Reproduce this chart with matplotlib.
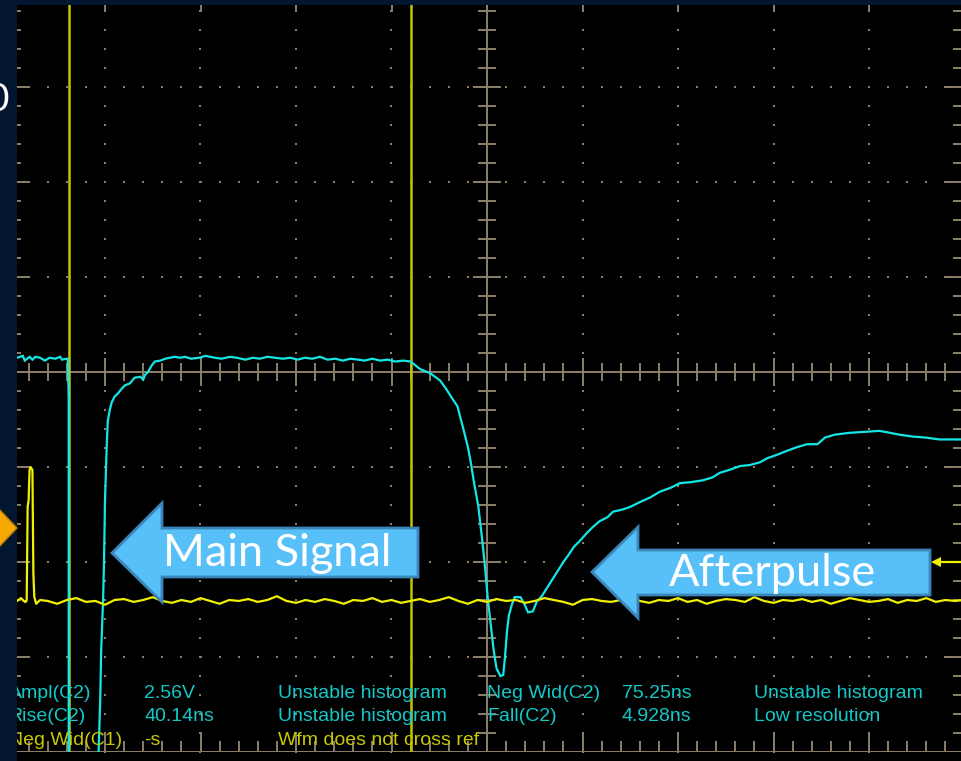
import numpy as np
import matplotlib
matplotlib.use("Agg")
import matplotlib.pyplot as plt
from matplotlib.collections import LineCollection
from matplotlib.patches import Polygon, Rectangle

# ----- C2 trace (cyan), screen divisions: x -5..5, y -4..4 -----
c2_t = [-4.92, -4.86, -4.84, -4.79, -4.76, -4.73, -4.68, -4.63, -4.58, -4.52, -4.47,
        -4.45, -4.40, -4.39, -4.38, -4.38, -4.08, -4.07, -4.05, -4.04, -4.02, -4.01,
        -4.00, -3.99, -3.98, -3.97, -3.95, -3.93, -3.90, -3.86, -3.82, -3.79, -3.74,
        -3.69, -3.63, -3.60, -3.58, -3.55, -3.51, -3.48, -3.42, -3.37, -3.32, -3.27,
        -3.21, -3.16, -3.10, -3.01, -2.95, -2.85, -2.78, -2.69, -2.62, -2.53, -2.45,
        -2.38, -2.30, -2.22, -2.14, -2.06, -1.98, -1.91, -1.83, -1.75, -1.67, -1.59,
        -1.51, -1.43, -1.35, -1.28, -1.20, -1.12, -1.04, -0.96, -0.88, -0.80, -0.75,
        -0.70, -0.60, -0.49, -0.42, -0.37, -0.31, -0.25, -0.20, -0.17, -0.14, -0.09,
        -0.05, -0.02, 0.01, 0.04, 0.07, 0.10, 0.14, 0.17, 0.19, 0.21, 0.23, 0.26,
        0.29, 0.35, 0.39, 0.43, 0.48, 0.52, 0.58, 0.63, 0.68, 0.73, 0.80, 0.85, 0.91,
        0.97, 1.05, 1.11, 1.18, 1.26, 1.32, 1.41, 1.50, 1.60, 1.71, 1.81, 1.92, 2.02,
        2.13, 2.26, 2.36, 2.44, 2.54, 2.65, 2.75, 2.86, 2.93, 3.04, 3.14, 3.25, 3.35,
        3.46, 3.54, 3.64, 3.80, 3.96, 4.11, 4.22, 4.32, 4.46, 4.59, 4.74, 4.96]
c2_v = [0.15, 0.17, 0.12, 0.16, 0.13, 0.16, 0.15, 0.12, 0.15, 0.14, 0.16,
        0.13, 0.14, 0.14, -0.27, -4.60, -4.60, -4.09, -3.45, -2.93, -2.40, -1.98,
        -1.35, -1.03, -0.72, -0.51, -0.40, -0.32, -0.26, -0.22, -0.17, -0.14, -0.12,
        -0.06, -0.05, -0.08, -0.03, 0.00, 0.07, 0.11, 0.12, 0.14, 0.15, 0.16,
        0.15, 0.16, 0.14, 0.15, 0.17, 0.15, 0.14, 0.16, 0.15, 0.13, 0.15,
        0.14, 0.16, 0.15, 0.14, 0.15, 0.13, 0.15, 0.14, 0.16, 0.13, 0.14,
        0.12, 0.14, 0.13, 0.12, 0.14, 0.12, 0.13, 0.11, 0.12, 0.11, 0.07,
        0.03, -0.01, -0.09, -0.19, -0.27, -0.36, -0.59, -0.79, -0.95, -1.14, -1.42,
        -1.77, -2.06, -2.40, -2.66, -2.93, -3.12, -3.20, -3.19, -2.98, -2.72, -2.56, -2.45,
        -2.37, -2.37, -2.44, -2.53, -2.52, -2.42, -2.35, -2.27, -2.19, -2.11, -2.00, -1.93, -1.84,
        -1.78, -1.69, -1.63, -1.57, -1.53, -1.47, -1.45, -1.42, -1.37, -1.32, -1.26, -1.22,
        -1.17, -1.16, -1.14, -1.11, -1.06, -1.03, -0.99, -0.98, -0.95, -0.91, -0.87, -0.83, -0.79,
        -0.76, -0.76, -0.69, -0.66, -0.64, -0.63, -0.62, -0.64, -0.66, -0.68, -0.69, -0.71, -0.71]

# ----- C1 trace (yellow) -----
c1_t = [-4.92, -4.88, -4.84, -4.83, -4.82, -4.81, -4.80, -4.79, -4.78, -4.76, -4.75,
        -4.74, -4.72, -4.68,
        -4.6, -4.5, -4.4, -4.3, -4.2, -4.1, -4.0, -3.9, -3.8, -3.7,
        -3.6, -3.5, -3.4, -3.3, -3.2, -3.1, -3.0, -2.9, -2.8, -2.7,
        -2.6, -2.5, -2.4, -2.3, -2.2, -2.1, -2.0, -1.9, -1.8, -1.7,
        -1.6, -1.5, -1.4, -1.3, -1.2, -1.1, -1.0, -0.9, -0.8, -0.7,
        -0.6, -0.5, -0.4, -0.3, -0.2, -0.1, 0.0, 0.1, 0.2, 0.3,
        0.4, 0.5, 0.6, 0.7, 0.8, 0.9, 1.0, 1.1, 1.2, 1.3,
        1.4, 1.5, 1.6, 1.7, 1.8, 1.9, 2.0, 2.1, 2.2, 2.3,
        2.4, 2.5, 2.6, 2.7, 2.8, 2.9, 3.0, 3.1, 3.2, 3.3,
        3.4, 3.5, 3.6, 3.7, 3.8, 3.9, 4.0, 4.1, 4.2, 4.3,
        4.4, 4.5, 4.6, 4.7, 4.8, 4.9, 5.0]
c1_v = [-2.41, -2.38, -2.42, -2.42, -2.40, -1.42, -1.35, -1.03, -1.00, -1.03, -2.12,
        -2.37, -2.44, -2.40,
        -2.41, -2.44, -2.40, -2.38, -2.42, -2.41, -2.45, -2.40, -2.39, -2.42,
        -2.40, -2.37, -2.41, -2.43, -2.40, -2.42, -2.38, -2.41, -2.44, -2.40,
        -2.41, -2.39, -2.42, -2.40, -2.36, -2.41, -2.43, -2.40, -2.42, -2.39,
        -2.41, -2.44, -2.40, -2.41, -2.38, -2.42, -2.40, -2.43, -2.41, -2.39,
        -2.42, -2.40, -2.37, -2.41, -2.44, -2.40, -2.42, -2.39, -2.41, -2.40,
        -2.43, -2.41, -2.38, -2.40, -2.42, -2.45, -2.40, -2.39, -2.41, -2.42,
        -2.40, -2.37, -2.41, -2.43, -2.40, -2.41, -2.38, -2.42, -2.40, -2.44,
        -2.41, -2.39, -2.40, -2.42, -2.37, -2.41, -2.43, -2.40, -2.41, -2.39,
        -2.42, -2.40, -2.44, -2.41, -2.38, -2.40, -2.42, -2.41, -2.39, -2.43,
        -2.40, -2.41, -2.38, -2.42, -2.40, -2.41, -2.40]

cursor_t = [-4.38, -0.80]
trig_level = -2.0

# ----- measurement readout -----
left_labels = ["Ampl(C2)", "Rise(C2)", "Neg Wid(C1)"]
left_values = ["2.56V", "40.14ns", "-s"]
left_status = ["Unstable histogram", "Unstable histogram", "Wfm does not cross ref"]
left_chan = ["C2", "C2", "C1"]
right_labels = ["Neg Wid(C2)", "Fall(C2)"]
right_values = ["75.25ns", "4.928ns"]
right_status = ["Unstable histogram", "Low resolution"]

CYAN = "#14e6e6"
YEL = "#f0f000"
CUR = "#c4c400"
TXT_CYAN = "#12c8c8"
TXT_YEL = "#c8c800"
GRAT = "#8c806a"
NAVY = "#031630"

fig = plt.figure(figsize=(9.61, 7.61), dpi=100, facecolor="black")

# scope graticule spans px x 9.5..964.5, y -8..752
ax = fig.add_axes([9.5 / 961, 9 / 761, 955 / 961, 760 / 761])
ax.set_facecolor("black")
ax.set_xlim(-5, 5); ax.set_ylim(-4, 4)
ax.axis("off")

minor_x = np.arange(-5, 5.001, 0.2)
minor_y = np.arange(-4, 4.001, 0.2)

# dotted major grid
for xv in range(-4, 5):
    if xv == 0:
        continue
    ax.plot(np.full_like(minor_y, xv), minor_y, ls="none", marker="s",
            ms=1.8, mew=0, color=GRAT, zorder=1)
for yv in range(-3, 4):
    if yv == 0:
        continue
    ax.plot(minor_x, np.full_like(minor_x, yv), ls="none", marker="s",
            ms=1.8, mew=0, color=GRAT, zorder=1)

# centre axes + border with ticks
segs = [[(-5, 0), (5, 0)], [(0, -4), (0, 4)],
        [(-5, -4), (5, -4)], [(-5, 4), (5, 4)], [(-5, -4), (-5, 4)], [(5, -4), (5, 4)]]
for x in minor_x:
    big = abs(x - round(x)) < 1e-6
    h = 0.15 if big else 0.09
    hb = 0.21 if big else 0.12
    segs.append([(x, -h), (x, h)])
    segs.append([(x, -4), (x, -4 + hb)])
    segs.append([(x, 4), (x, 4 - hb)])
for y in minor_y:
    big = abs(y - round(y)) < 1e-6
    w = 0.15 if big else 0.09
    wb = 0.21 if big else 0.12
    segs.append([(-w, y), (w, y)])
    segs.append([(-5, y), (-5 + wb, y)])
    segs.append([(5, y), (5 - wb, y)])
ax.add_collection(LineCollection(segs, colors=GRAT, linewidths=1.4, zorder=1))

# cursors
for ct in cursor_t:
    ax.axvline(ct, color=CUR, lw=1.8, zorder=2)

# traces
ax.plot(c2_t, c2_v, color=CYAN, lw=1.6, zorder=3, solid_joinstyle="miter")
ax.plot(c1_t, c1_v, color=YEL, lw=1.6, zorder=4)

# trigger level marker at right edge
ax.plot([4.72, 5.0], [trig_level, trig_level], color=YEL, lw=1.6, zorder=4)
ax.plot([4.70], [trig_level], marker="<", ms=7, color=YEL, mew=0, zorder=4)

# readout text
col_x = [-5.01, -3.59, -2.19]
row_y = [-3.38, -3.63, -3.88]
fnt = dict(family=["Liberation Sans", "DejaVu Sans"], fontsize=14, va="center", ha="left")
for i in range(3):
    c = TXT_CYAN if left_chan[i] == "C2" else TXT_YEL
    for j, s in enumerate([left_labels[i], left_values[i], left_status[i]]):
        ax.text(col_x[j], row_y[i], s, color=c, zorder=5, **fnt)
col_x2 = [0.0, 1.41, 2.80]
for i in range(2):
    for j, s in enumerate([right_labels[i], right_values[i], right_status[i]]):
        ax.text(col_x2[j], row_y[i], s, color=TXT_CYAN, zorder=5, **fnt)

# ---- overlay: slide framing and callouts (pixel coords) ----
ov = fig.add_axes([0, 0, 1, 1], facecolor="none")
ov.set_xlim(0, 961); ov.set_ylim(761, 0)
ov.axis("off")
ov.add_patch(Rectangle((0, 0), 17, 761, color=NAVY, lw=0))
ov.add_patch(Rectangle((0, 0), 961, 5, color=NAVY, lw=0))
ov.text(9, 100, "0", color="white", fontsize=28, ha="right", va="center",
        family=["Lato", "DejaVu Sans"])
ov.add_patch(Polygon([(-2, 508), (17, 528), (-2, 548)], closed=True,
                     fc="#f5a800", ec="#c07a00", lw=1))

arrow_fc = "#58c0f8"
arrow_ec = "#3a86b8"
main_poly = [(112, 553), (162, 503), (162, 528), (418, 528), (418, 577), (162, 577), (162, 602)]
after_poly = [(592, 572), (638, 527), (638, 550), (930, 550), (930, 595), (638, 595), (638, 618)]
for poly in (main_poly, after_poly):
    ov.add_patch(Polygon(poly, closed=True, fc=arrow_fc, ec=arrow_ec, lw=2, zorder=5))
ov.text(277, 553, "Main Signal", color="white", fontsize=32.5, ha="center", va="center",
        family=["Lato", "DejaVu Sans"], zorder=6)
ov.text(772, 574, "Afterpulse", color="white", fontsize=32.5, ha="center", va="center",
        family=["Lato", "DejaVu Sans"], zorder=6)

fig.savefig("out.png", dpi=100, facecolor="black")
